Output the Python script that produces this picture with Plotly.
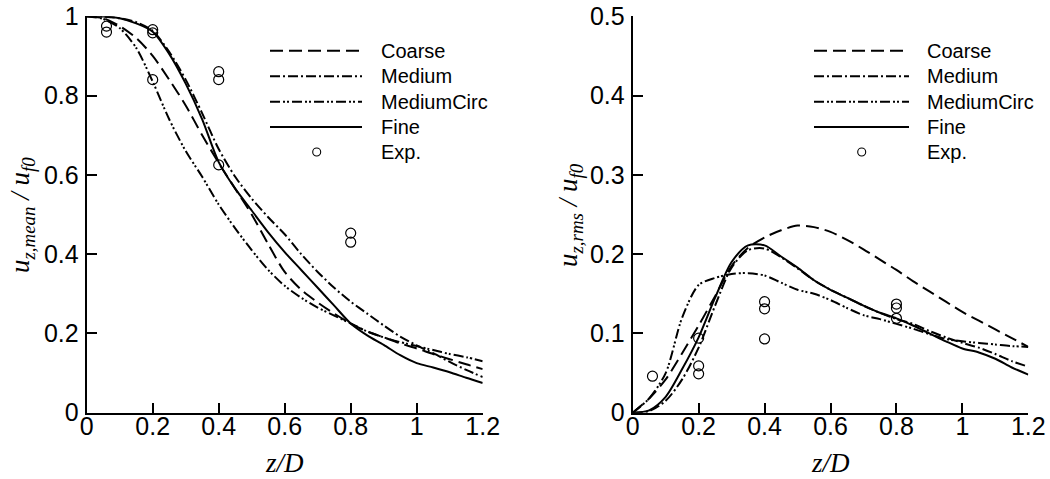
import plotly.graph_objects as go

# ---------------- data ----------------
z = [0.0, 0.05, 0.1, 0.15, 0.2, 0.25, 0.3, 0.35, 0.4, 0.45, 0.5, 0.55, 0.6,
     0.65, 0.7, 0.75, 0.8, 0.85, 0.9, 0.95, 1.0, 1.05, 1.1, 1.15, 1.2]

mean_coarse = [1.0, 0.995, 0.975, 0.945, 0.9, 0.84, 0.775, 0.70, 0.63, 0.565, 0.5, 0.425, 0.355,
               0.31, 0.278, 0.25, 0.225, 0.205, 0.19, 0.175, 0.162, 0.148, 0.135, 0.122, 0.11]
mean_medium = [1.0, 0.999, 0.995, 0.985, 0.963, 0.91, 0.84, 0.755, 0.665, 0.595, 0.54, 0.493, 0.45,
               0.40, 0.355, 0.315, 0.28, 0.25, 0.22, 0.192, 0.17, 0.15, 0.128, 0.108, 0.09]
mean_circ = [1.0, 0.993, 0.97, 0.92, 0.835, 0.74, 0.66, 0.595, 0.525, 0.465, 0.41, 0.36, 0.32,
             0.29, 0.265, 0.245, 0.225, 0.205, 0.19, 0.178, 0.168, 0.158, 0.148, 0.14, 0.13]
mean_fine = [1.0, 0.999, 0.995, 0.982, 0.961, 0.905, 0.83, 0.74, 0.632, 0.565, 0.51, 0.455, 0.405,
             0.36, 0.315, 0.27, 0.225, 0.195, 0.171, 0.145, 0.125, 0.114, 0.102, 0.088, 0.075]
mean_exp_z = [0.06, 0.06, 0.2, 0.2, 0.2, 0.4, 0.4, 0.4, 0.8, 0.8]
mean_exp_v = [0.975, 0.96, 0.966, 0.958, 0.84, 0.86, 0.84, 0.625, 0.453, 0.43]

rms_coarse = [0.0, 0.018, 0.042, 0.075, 0.11, 0.147, 0.185, 0.208, 0.221, 0.23, 0.236, 0.234, 0.228,
              0.218, 0.206, 0.193, 0.18, 0.166, 0.153, 0.14, 0.127, 0.116, 0.105, 0.094, 0.083]
rms_medium = [0.0, 0.002, 0.015, 0.042, 0.082, 0.135, 0.183, 0.205, 0.207, 0.196, 0.182, 0.167, 0.155,
              0.145, 0.135, 0.126, 0.118, 0.112, 0.103, 0.095, 0.088, 0.082, 0.074, 0.065, 0.058]
rms_circ = [0.0, 0.018, 0.05, 0.12, 0.161, 0.17, 0.175, 0.176, 0.173, 0.164, 0.155, 0.15, 0.142,
            0.132, 0.123, 0.118, 0.112, 0.106, 0.099, 0.093, 0.09, 0.088, 0.086, 0.084, 0.083]
rms_fine = [0.0, 0.003, 0.02, 0.055, 0.095, 0.145, 0.19, 0.211, 0.211, 0.197, 0.183, 0.167, 0.155,
            0.145, 0.135, 0.126, 0.119, 0.11, 0.1, 0.09, 0.081, 0.076, 0.068, 0.057, 0.048]
rms_exp_z = [0.06, 0.2, 0.2, 0.2, 0.4, 0.4, 0.4, 0.8, 0.8, 0.8]
rms_exp_v = [0.046, 0.094, 0.059, 0.049, 0.14, 0.131, 0.093, 0.137, 0.132, 0.119]

names = ["Coarse", "Medium", "MediumCirc", "Fine"]
exp_name = "Exp."
dashes = ["13px,6px", "10px,3px,2px,3px", "10px,3px,2px,2px,2px,3px", "solid"]

# ---------------- figure ----------------
W, H = 1050, 479
fig = go.Figure()

panels = [
    ("x", "y", [mean_coarse, mean_medium, mean_circ, mean_fine], mean_exp_z, mean_exp_v),
    ("x2", "y2", [rms_coarse, rms_medium, rms_circ, rms_fine], rms_exp_z, rms_exp_v),
]
for xa, ya, series, ez, ev in panels:
    for name, dash, vals in zip(names, dashes, series):
        fig.add_trace(go.Scatter(
            x=z, y=vals, mode="lines", name=name, xaxis=xa, yaxis=ya, showlegend=False,
            line=dict(color="black", width=2, dash=dash, shape="spline", smoothing=0.8),
        ))
    fig.add_trace(go.Scatter(
        x=ez, y=ev, mode="markers", name=exp_name, xaxis=xa, yaxis=ya, showlegend=False,
        marker=dict(symbol="circle-open", size=10, color="black", line=dict(width=1.2, color="black")),
    ))

ybot = (H - 412.7) / H
ytop = (H - 16.2) / H

axis_common = dict(
    showline=True, linecolor="black", linewidth=2,
    ticks="inside", ticklen=10, tickwidth=2, tickcolor="black",
    showgrid=False, zeroline=False, automargin=False,
    tickfont=dict(family="Liberation Sans, Arial, sans-serif", size=25, color="black"),
)

fig.update_layout(
    width=W, height=H, autosize=False,
    margin=dict(l=0, r=0, t=0, b=0, autoexpand=False),
    paper_bgcolor="white", plot_bgcolor="white",
    xaxis=dict(domain=[86.7 / W, 482.7 / W], range=[0, 1.2], dtick=0.2, anchor="y",
               ticklabelstandoff=-10, **axis_common),
    yaxis=dict(domain=[ybot, ytop], range=[0, 1.0], dtick=0.2, anchor="x",
               ticklabelstandoff=1, **axis_common),
    xaxis2=dict(domain=[632.7 / W, 1028.3 / W], range=[0, 1.2], dtick=0.2, anchor="y2",
                ticklabelstandoff=-10, **axis_common),
    yaxis2=dict(domain=[ybot, ytop], range=[0, 0.5], dtick=0.1, anchor="x2",
                ticklabelstandoff=1, **axis_common),
    showlegend=False,
)

# ---------------- hand-built legends (one per panel) ----------------
leg_font = dict(family="Liberation Sans, Arial, sans-serif", size=20, color="black")
row_y = [50.7, 76.2, 101.7, 126.9, 152.0]
legends = [
    dict(x0=270, x1=362, tx=379, mx=316.7),
    dict(x0=814, x1=909, tx=925, mx=861.7),
]
for lg in legends:
    for i, (name, dash) in enumerate(zip(names, dashes)):
        yy = (H - row_y[i]) / H
        fig.add_shape(type="line", xref="paper", yref="paper",
                      x0=lg["x0"] / W, x1=lg["x1"] / W, y0=yy, y1=yy,
                      line=dict(color="black", width=2, dash=dash))
        fig.add_annotation(text=name, x=lg["tx"] / W, y=yy, xref="paper", yref="paper",
                           showarrow=False, font=leg_font, xanchor="left", yanchor="middle")
    yy = (H - row_y[4]) / H
    r = 4.0
    fig.add_shape(type="circle", xref="paper", yref="paper",
                  x0=(lg["mx"] - r) / W, x1=(lg["mx"] + r) / W,
                  y0=(H - row_y[4] - r) / H, y1=(H - row_y[4] + r) / H,
                  line=dict(color="black", width=1.1))
    fig.add_annotation(text=exp_name, x=lg["tx"] / W, y=yy, xref="paper", yref="paper",
                       showarrow=False, font=leg_font, xanchor="left", yanchor="middle")

# ---------------- axis titles ----------------
title_font = dict(family="Liberation Serif, Times New Roman, serif", size=27, color="black")
fig.add_annotation(text="<i>z/D</i>", x=284.7 / W, y=(H - 463) / H, xref="paper", yref="paper",
                   showarrow=False, font=title_font, xanchor="center", yanchor="middle")
fig.add_annotation(text="<i>z/D</i>", x=830.5 / W, y=(H - 463) / H, xref="paper", yref="paper",
                   showarrow=False, font=title_font, xanchor="center", yanchor="middle")
fig.add_annotation(text="<i>u<sub>z,mean</sub> / u<sub>f0</sub></i>", x=22 / W, y=(H - 215) / H,
                   xref="paper", yref="paper", showarrow=False, font=title_font, textangle=-90,
                   xanchor="center", yanchor="middle")
fig.add_annotation(text="<i>u<sub>z,rms</sub> / u<sub>f0</sub></i>", x=570 / W, y=(H - 215) / H,
                   xref="paper", yref="paper", showarrow=False, font=title_font, textangle=-90,
                   xanchor="center", yanchor="middle")

fig.write_html("out.html")
